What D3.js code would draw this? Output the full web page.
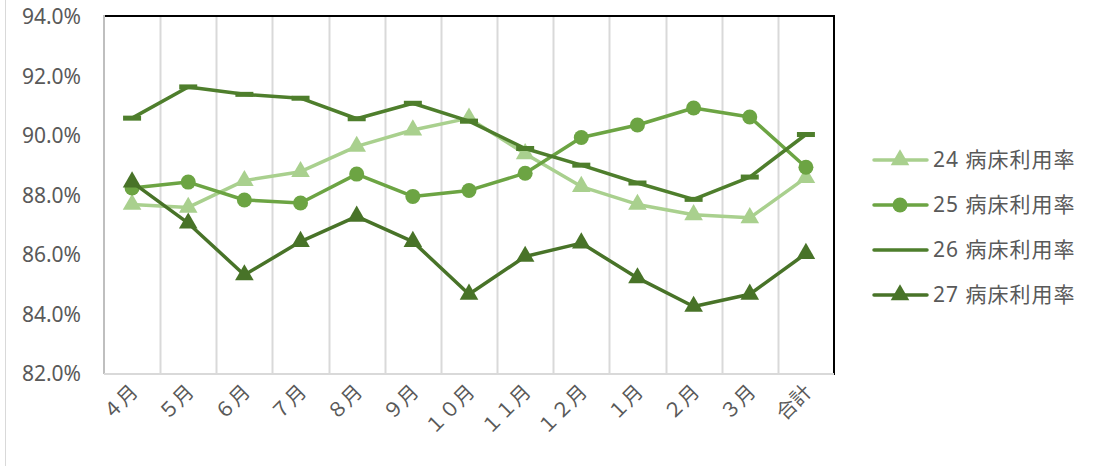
<!DOCTYPE html>
<html>
<head>
<meta charset="utf-8">
<script src="https://cdn.jsdelivr.net/npm/d3@7"></script>
<style>
  body { margin: 0; background: #fff; }
  text { font-family: "Noto Sans", "Noto Sans CJK JP", sans-serif; fill: #595959; }
</style>
</head>
<body>
<svg id="chart" width="1108" height="466"></svg>
<script>
// data
const months = ["４月", "５月", "６月", "７月", "８月", "９月", "１０月", "１１月", "１２月", "１月", "２月", "３月", "合計"];
const yTicks = [82, 84, 86, 88, 90, 92, 94];

const rate24 = [87.7, 87.6, 88.5, 88.8, 89.65, 90.2, 90.6, 89.4, 88.3, 87.7, 87.35, 87.25, 88.6];
const rate25 = [88.25, 88.45, 87.85, 87.75, 88.72, 87.97, 88.17, 88.75, 89.95, 90.37, 90.94, 90.64, 88.95];
const rate26 = [90.6, 91.65, 91.4, 91.27, 90.58, 91.1, 90.5, 89.58, 89.02, 88.42, 87.87, 88.62, 90.05];
const rate27 = [88.45, 87.07, 85.33, 86.45, 87.3, 86.45, 84.68, 85.95, 86.4, 85.23, 84.27, 84.68, 86.05];

const seriesNames = ["24 病床利用率", "25 病床利用率", "26 病床利用率", "27 病床利用率"];

const series = [
  { name: seriesNames[0], values: rate24, color: "#a9d08e", marker: "triangle" },
  { name: seriesNames[1], values: rate25, color: "#6ca443", marker: "circle" },
  { name: seriesNames[2], values: rate26, color: "#4e7e2c", marker: "dash" },
  { name: seriesNames[3], values: rate27, color: "#487328", marker: "triangle" }
];

const svg = d3.select("#chart");
const plot = { left: 104, right: 834, top: 17, bottom: 374 };

const x = d3.scaleBand()
  .domain(months)
  .range([plot.left, plot.right]);
const cx = d => x(d) + x.bandwidth() / 2;

const y = d3.scaleLinear()
  .domain([82, 94])
  .range([plot.bottom, plot.top]);

// chart area border (left edge only visible)
svg.append("line")
  .attr("x1", 5.5).attr("x2", 5.5)
  .attr("y1", 0).attr("y2", 466)
  .attr("stroke", "#d9d9d9");

// vertical gridlines
svg.append("g")
  .selectAll("line")
  .data(months.slice(1))
  .join("line")
  .attr("x1", d => Math.round(x(d)) + 0.5)
  .attr("x2", d => Math.round(x(d)) + 0.5)
  .attr("y1", plot.top)
  .attr("y2", plot.bottom)
  .attr("stroke", "#d9d9d9")
  .attr("stroke-width", 2);

// plot area border: black top + right, gray left + bottom
svg.append("line")
  .attr("x1", plot.left).attr("x2", plot.right)
  .attr("y1", plot.top - 1).attr("y2", plot.top - 1)
  .attr("stroke", "#000").attr("stroke-width", 2);
svg.append("line")
  .attr("x1", plot.right).attr("x2", plot.right)
  .attr("y1", plot.top - 2).attr("y2", plot.bottom + 1)
  .attr("stroke", "#000").attr("stroke-width", 2);
svg.append("line")
  .attr("x1", plot.left).attr("x2", plot.left)
  .attr("y1", plot.top - 2).attr("y2", plot.bottom)
  .attr("stroke", "#bfbfbf").attr("stroke-width", 2);
svg.append("line")
  .attr("x1", plot.left).attr("x2", plot.right)
  .attr("y1", plot.bottom).attr("y2", plot.bottom)
  .attr("stroke", "#d9d9d9").attr("stroke-width", 2);

// y labels
svg.append("g")
  .selectAll("text")
  .data(yTicks)
  .join("text")
  .attr("x", 81)
  .attr("y", d => y(d))
  .attr("dy", "0.35em")
  .attr("text-anchor", "end")
  .attr("font-size", "21px")
  .text(d => d.toFixed(1) + "%");

// x labels, rotated
svg.append("g")
  .selectAll("text")
  .data(months)
  .join("text")
  .attr("text-anchor", "end")
  .attr("font-size", "20px")
  .attr("transform", d => `translate(${cx(d) + 7},${plot.bottom + 19}) rotate(-45)`)
  .text(d => d);

const triangle = d3.symbol().type(d3.symbolTriangle).size(150);

function drawMarker(sel, s) {
  if (s.marker === "circle") {
    sel.append("circle").attr("r", 7.5).attr("fill", s.color);
  } else if (s.marker === "triangle") {
    sel.append("path").attr("d", triangle()).attr("fill", s.color);
  } else {
    sel.append("rect")
      .attr("x", -9).attr("y", -2.5)
      .attr("width", 18).attr("height", 5)
      .attr("fill", s.color);
  }
}

const line = d3.line()
  .x((d, i) => cx(months[i]))
  .y(d => y(d));

series.forEach(s => {
  const g = svg.append("g");
  g.append("path")
    .datum(s.values)
    .attr("d", line)
    .attr("fill", "none")
    .attr("stroke", s.color)
    .attr("stroke-width", 3.5)
    .attr("stroke-linejoin", "round");
  s.values.forEach((v, i) => {
    const m = g.append("g").attr("transform", `translate(${cx(months[i])},${y(v)})`);
    drawMarker(m, s);
  });
});

// legend
const legend = svg.append("g");
series.forEach((s, i) => {
  const ly = 160 + i * 45;
  const item = legend.append("g");
  item.append("line")
    .attr("x1", 874).attr("x2", 927)
    .attr("y1", ly).attr("y2", ly)
    .attr("stroke", s.color)
    .attr("stroke-width", 3.5)
    .attr("stroke-linecap", "round");
  if (s.marker !== "dash") {
    drawMarker(item.append("g").attr("transform", `translate(900,${ly})`), s);
  }
  item.append("text")
    .attr("x", 933)
    .attr("y", ly)
    .attr("dy", "0.35em")
    .attr("font-size", "21px")
    .attr("letter-spacing", "1px")
    .text(s.name);
});
</script>
</body>
</html>
